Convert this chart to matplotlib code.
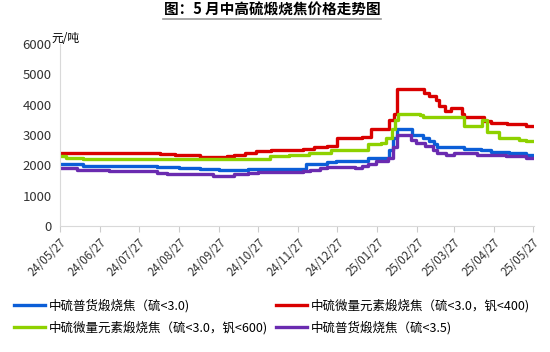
import matplotlib
matplotlib.use("Agg")
import matplotlib.pyplot as plt
import matplotlib.dates as mdates
import pandas as pd

plt.rcParams['font.family'] = ['Noto Sans CJK SC', 'DejaVu Sans']

# --- Data (step points: date, price) ---
blue_dates = ["2024-05-27", "2024-06-14", "2024-08-10", "2024-08-27", "2024-09-12", "2024-09-27",
              "2024-10-19", "2024-12-03", "2024-12-19", "2024-12-26", "2025-01-20", "2025-02-05",
              "2025-02-08", "2025-02-11", "2025-02-23", "2025-03-03", "2025-03-08", "2025-03-12",
              "2025-03-14", "2025-04-04", "2025-04-17", "2025-04-25", "2025-05-09", "2025-05-22", "2025-05-27"]
blue_vals = [2050, 1980, 1950, 1920, 1870, 1830, 1890, 2050, 2100, 2150, 2250, 2500,
             2900, 3200, 3000, 2900, 2800, 2700, 2600, 2550, 2500, 2450, 2400, 2350, 2350]

red_dates = ["2024-05-27", "2024-08-12", "2024-08-24", "2024-09-12", "2024-10-03", "2024-10-08",
             "2024-10-17", "2024-10-25", "2024-11-06", "2024-11-19", "2024-12-01", "2024-12-09",
             "2024-12-19", "2024-12-27", "2025-01-15", "2025-01-22", "2025-02-05", "2025-02-09",
             "2025-02-11", "2025-03-04", "2025-03-08", "2025-03-13", "2025-03-16", "2025-03-20",
             "2025-03-25", "2025-04-02", "2025-04-04", "2025-04-19", "2025-04-25", "2025-05-07",
             "2025-05-22", "2025-05-27"]
red_vals = [2400, 2380, 2350, 2280, 2300, 2350, 2400, 2480, 2500, 2520, 2550, 2600,
            2650, 2900, 2950, 3200, 3500, 3700, 4500, 4400, 4300, 4150, 3950, 3800,
            3900, 3700, 3600, 3450, 3400, 3350, 3300, 3300]

green_dates = ["2024-05-27", "2024-06-01", "2024-06-14", "2024-11-05", "2024-11-20", "2024-12-05",
               "2024-12-22", "2025-01-20", "2025-01-30", "2025-02-03", "2025-02-07", "2025-02-10",
               "2025-02-12", "2025-03-01", "2025-03-03", "2025-04-04", "2025-04-18", "2025-04-22",
               "2025-05-01", "2025-05-16", "2025-05-22", "2025-05-27"]
green_vals = [2300, 2230, 2200, 2320, 2350, 2410, 2500, 2700, 2750, 2900, 3200, 3500,
              3700, 3650, 3600, 3300, 3500, 3100, 2900, 2850, 2800, 2800]

purple_dates = ["2024-05-27", "2024-06-09", "2024-07-04", "2024-08-10", "2024-08-18", "2024-09-01",
                "2024-09-22", "2024-10-08", "2024-10-19", "2024-10-27", "2024-12-01", "2024-12-06",
                "2024-12-14", "2024-12-19", "2025-01-10", "2025-01-15", "2025-01-20", "2025-01-26",
                "2025-02-04", "2025-02-08", "2025-02-11", "2025-02-22", "2025-02-26", "2025-03-05",
                "2025-03-11", "2025-03-14", "2025-03-21", "2025-03-27", "2025-04-14", "2025-05-06",
                "2025-05-22", "2025-05-27"]
purple_vals = [1900, 1850, 1800, 1740, 1720, 1700, 1650, 1700, 1750, 1780, 1800, 1850,
               1900, 1950, 1920, 1970, 2050, 2150, 2250, 2600, 3000, 2850, 2750, 2650,
               2500, 2400, 2350, 2400, 2350, 2300, 2250, 2250]

labels = ["中硫普货煅烧焦（硫<3.0)", "中硫微量元素煅烧焦（硫<3.0，钒<400)",
          "中硫微量元素煅烧焦（硫<3.0，钒<600)", "中硫普货煅烧焦（硫<3.5)"]
tick_dates = pd.date_range("2024-05-01", "2025-05-01", freq="MS") + pd.Timedelta(days=26)

# --- Plot ---
fig = plt.figure(figsize=(5.5, 3.52), dpi=100)
ax = fig.add_axes([0.109, 0.358, 0.862, 0.517])

series = [
    (blue_dates, blue_vals, "#0b5ed7", labels[0]),
    (red_dates, red_vals, "#d90000", labels[1]),
    (green_dates, green_vals, "#8ed100", labels[2]),
    (purple_dates, purple_vals, "#6a2bb0", labels[3]),
]
lines = {}
for d, v, c, lab in series:
    ln, = ax.plot(pd.to_datetime(d), v, drawstyle="steps-post", color=c, lw=2.4, label=lab)
    lines[lab] = ln

ax.set_ylim(0, 6000)
ax.set_yticks(range(0, 6001, 1000))
ax.set_xlim(pd.Timestamp("2024-05-27"), pd.Timestamp("2025-05-28"))
ax.set_xticks(tick_dates)
ax.xaxis.set_major_formatter(mdates.DateFormatter("%y/%m/%d"))
plt.setp(ax.get_xticklabels(), rotation=45, ha="right", rotation_mode="anchor")
ax.tick_params(axis="x", labelsize=8.3, colors="#333333", length=4, color="#cccccc")
ax.tick_params(axis="y", labelsize=9.5, colors="#333333", length=0, pad=6)
for s in ["top", "right"]:
    ax.spines[s].set_visible(False)
for s in ["left", "bottom"]:
    ax.spines[s].set_color("#d9d9d9")

fig.text(0.093, 0.89, "元/吨", fontsize=8.5, ha="left", va="center")

fig.text(0.495, 0.972, "图：5 月中高硫煅烧焦价格走势图", fontsize=10.5, fontweight="bold",
         ha="center", va="center")
fig.add_artist(plt.Line2D([0.296, 0.692], [0.945, 0.945], color="#999999", lw=1.2))

order = [labels[0], labels[2], labels[1], labels[3]]
fig.legend([lines[k] for k in order], order, ncol=2, loc="upper left",
           bbox_to_anchor=(0.005, 0.182), frameon=False, fontsize=9,
           handlelength=2.5, handletextpad=0.3, columnspacing=0.6, labelspacing=0.65)

fig.savefig("out.png", dpi=100)
